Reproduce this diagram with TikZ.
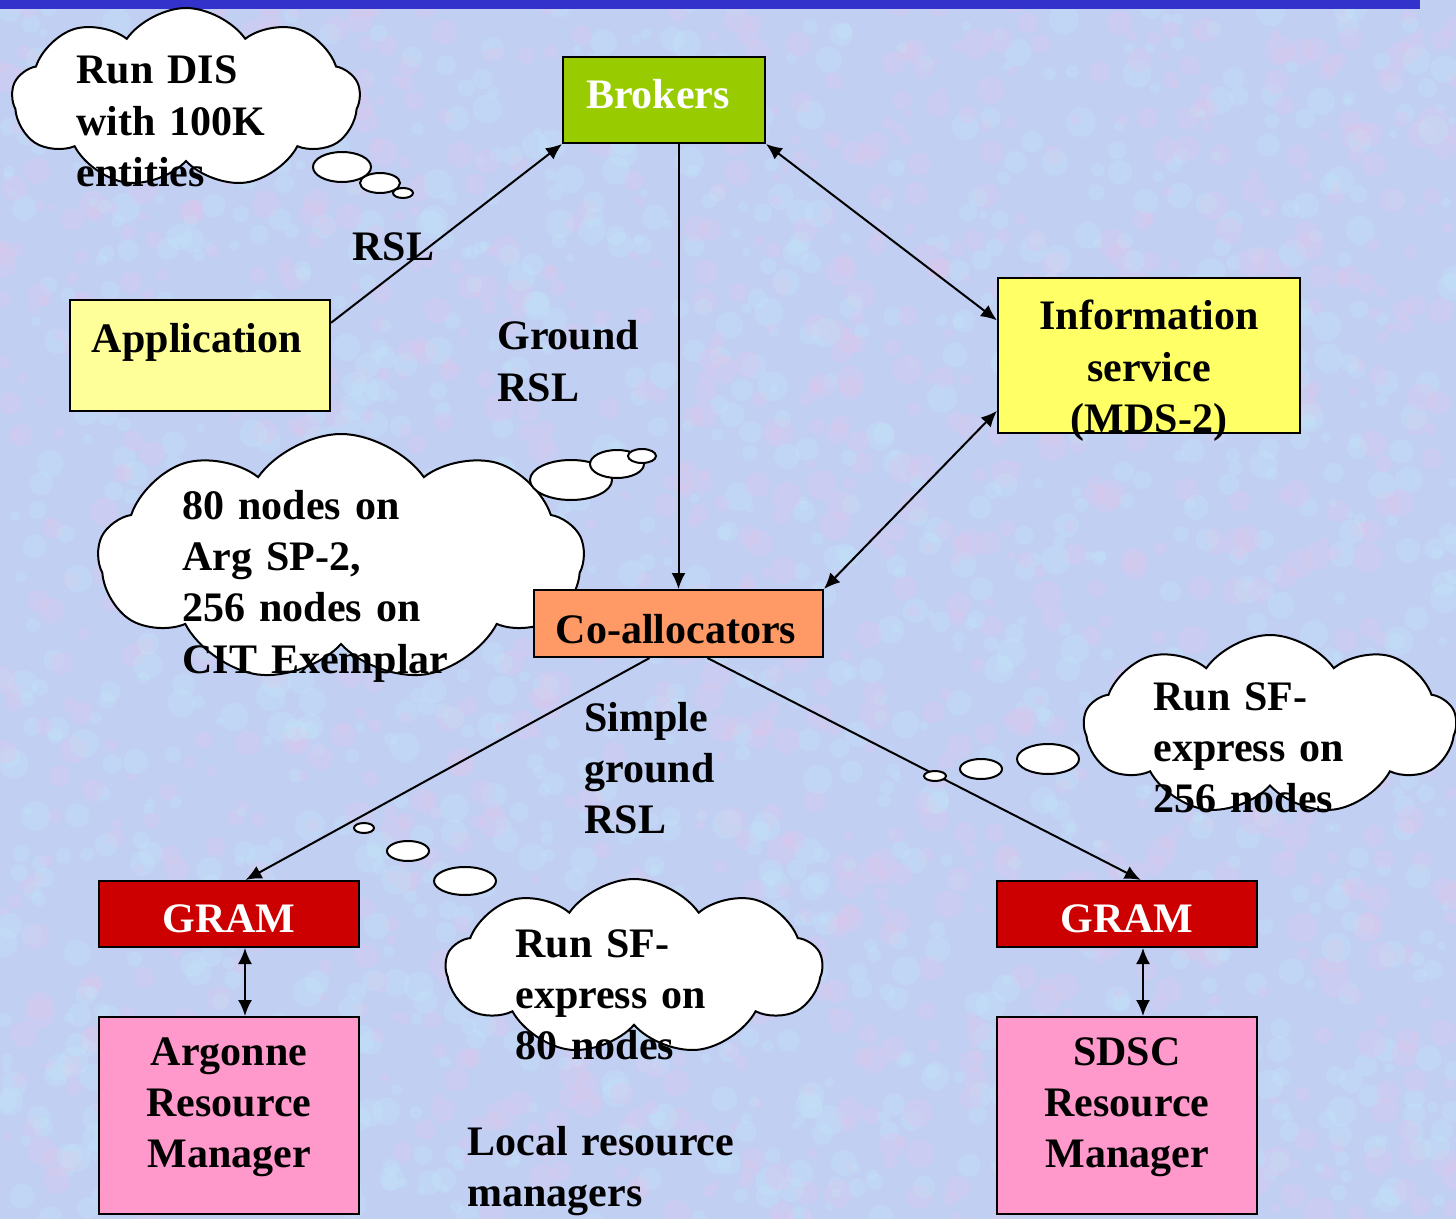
\documentclass[tikz,border=0pt]{standalone}
\usepackage{fontspec}
\setmainfont{Liberation Serif}
\usetikzlibrary{arrows.meta,positioning,shapes.symbols}

\definecolor{bgblue}{RGB}{193,207,243}
\definecolor{bgpink}{RGB}{226,198,236}
\definecolor{bgcyan}{RGB}{196,232,248}
\definecolor{barblue}{RGB}{51,51,204}
\definecolor{brokgreen}{RGB}{153,204,0}
\definecolor{appyellow}{RGB}{255,255,153}
\definecolor{infoyellow}{RGB}{255,255,102}
\definecolor{coorange}{RGB}{255,153,102}
\definecolor{gramred}{RGB}{204,0,0}
\definecolor{rmpink}{RGB}{255,153,204}

\begin{document}
\begin{tikzpicture}[x=0.5pt,y=-0.5pt,>={Latex[length=8pt,width=7pt]}]
			\tikzset{box/.style={draw, rectangle, line width=1pt, inner sep=0pt},
				txt/.style={font=\fontsize{21}{25.7}\selectfont\bfseries, inner sep=0pt, text width=#1},
				txt/.default=170pt,
				thought/.style={cloud, draw, fill=white, line width=1pt, cloud puffs=9, cloud puff arc=110, aspect=2},
				bubble/.style={draw, fill=white, line width=1pt},
				conn/.style={line width=1pt},
			}
			\useasboundingbox (0,0) rectangle (1456,1219);
			\fill[bgblue] (0,0) rectangle (1456,1219);
			% mottled backdrop
			\pgfmathsetseed{17}
			\foreach \i in {1,...,1300}{
				\pgfmathsetmacro\px{rnd*1456}
				\pgfmathsetmacro\py{rnd*1219}
				\pgfmathsetmacro\pr{4+rnd*11}
				\fill[bgpink, opacity=0.28] (\px,\py) circle [radius=\pr];
				\pgfmathsetmacro\qx{rnd*1456}
				\pgfmathsetmacro\qy{rnd*1219}
				\fill[bgcyan, opacity=0.28] (\qx,\qy) circle [radius=\pr];
			}
			\fill[barblue] (0,0) rectangle (1420,9);

			% thought clouds with their bubbles
			\node[thought, minimum width=174pt, minimum height=90pt] (cloudDIS) at (186,98) {};
			\draw[bubble] (342,167) ellipse [x radius=29, y radius=15];
			\draw[bubble] (380,183) ellipse [x radius=20, y radius=10];
			\draw[bubble] (403,193) ellipse [x radius=10, y radius=5];

			\node[thought, minimum width=243pt, minimum height=124pt] (cloudArg) at (341,558) {};
			\draw[bubble] (571,480) ellipse [x radius=41, y radius=20];
			\draw[bubble] (617,464) ellipse [x radius=27, y radius=14];
			\draw[bubble] (642,456) ellipse [x radius=14, y radius=7];

			\node[thought, minimum width=186pt, minimum height=90pt] (cloudSDSC) at (1270,725) {};
			\node[thought, minimum width=188pt, minimum height=88pt] (cloudANL) at (634,967) {};

			% boxes
			\node[box, fill=brokgreen, minimum width=101pt, minimum height=43pt] (broker) at (664,100) {};
			\node[box, fill=appyellow, minimum width=130pt, minimum height=55.5pt] (app) at (200,355.5) {};
			\node[box, fill=infoyellow, minimum width=151pt, minimum height=77.5pt] (info) at (1149,355.5) {};
			\node[box, fill=coorange, minimum width=144.5pt, minimum height=33.5pt] (coalloc) at (678.5,623.5) {};
			\node[box, fill=gramred, minimum width=130pt, minimum height=33pt] (gramA) at (229,914) {};
			\node[box, fill=gramred, minimum width=130pt, minimum height=33pt] (gramB) at (1127,914) {};
			\node[box, fill=rmpink, minimum width=130pt, minimum height=98.5pt, below=34pt of gramA] (rmA) {};
			\node[box, fill=rmpink, minimum width=130pt, minimum height=98.5pt, below=34pt of gramB] (rmB) {};

			\draw[conn, ->] (app.14) -- (broker.south west);
			\draw[conn, ->] (coalloc.north |- broker.south) -- (coalloc.north);
			\draw[conn, <->] (broker.south east) -- (info.167);
			\draw[conn, <->] (info.200) -- (coalloc.north east);
			\draw[conn, ->] (coalloc.230) -- (gramA.64);
			\draw[conn, ->] (coalloc.310) -- (gramB.68);
			\draw[conn, <->] ([xshift=8pt]gramA.south) -- ([xshift=8pt]rmA.north);
			\draw[conn, <->] ([xshift=8pt]gramB.south) -- ([xshift=8pt]rmB.north);

			% bubbles of the SF-express clouds sit on top of the lines
			\draw[bubble] (1048,759) ellipse [x radius=31, y radius=15];
			\draw[bubble] (981,769) ellipse [x radius=21, y radius=10];
			\draw[bubble] (935,776) ellipse [x radius=11, y radius=5];
			\draw[bubble] (465,881) ellipse [x radius=31, y radius=14];
			\draw[bubble] (408,851) ellipse [x radius=21, y radius=10];
			\draw[bubble] (364,828) ellipse [x radius=10, y radius=5];

			% box texts
			\node[txt=120pt, align=center, anchor=base, text=white] (brokerT) at (658,109) {Brokers};
			\node[txt=140pt, align=center, anchor=base] (appT) at (197,353) {Application};
			\node[txt=150pt, align=center, anchor=base] (infoT) at (1149,330) {Information\\service\\(MDS-2)};
			\node[txt=150pt, align=center, anchor=base] (coallocT) at (676,643) {Co-allocators};
			\node[txt=120pt, align=center, anchor=base, text=white] (gramAT) at (229,932) {GRAM};
			\node[txt=120pt, align=center, anchor=base, text=white] (gramBT) at (1127,932) {GRAM};
			\node[txt=120pt, align=center, anchor=base] (rmAT) at (229,1065) {Argonne\\Resource\\Manager};
			\node[txt=120pt, align=center, anchor=base] (rmBT) at (1127,1065) {SDSC\\Resource\\Manager};

			% cloud texts
			\node[txt, align=left, anchor=base west] (disT) at (76,84) {Run DIS\\with 100K\\entities};
			\node[txt, align=left, anchor=base west] (argT) at (182,519) {80 nodes on\\Arg SP-2,\\256 nodes on\\CIT Exemplar};
			\node[txt, align=left, anchor=base west] (sdscT) at (1153,710) {Run SF-\\express on\\256 nodes};
			\node[txt, align=left, anchor=base west] (anlT) at (515,957) {Run SF-\\express on\\80 nodes};

			% labels on the links
			\node[txt, align=left, anchor=base west] (rslT) at (352,261) {RSL};
			\node[txt, align=left, anchor=base west] (groundT) at (497,350) {Ground\\RSL};
			\node[txt, align=left, anchor=base west] (simpleT) at (584,731) {Simple\\ground\\RSL};
			\node[txt, align=left, anchor=base west] (localT) at (467,1155) {Local resource\\managers};
		\end{tikzpicture}
\end{document}
